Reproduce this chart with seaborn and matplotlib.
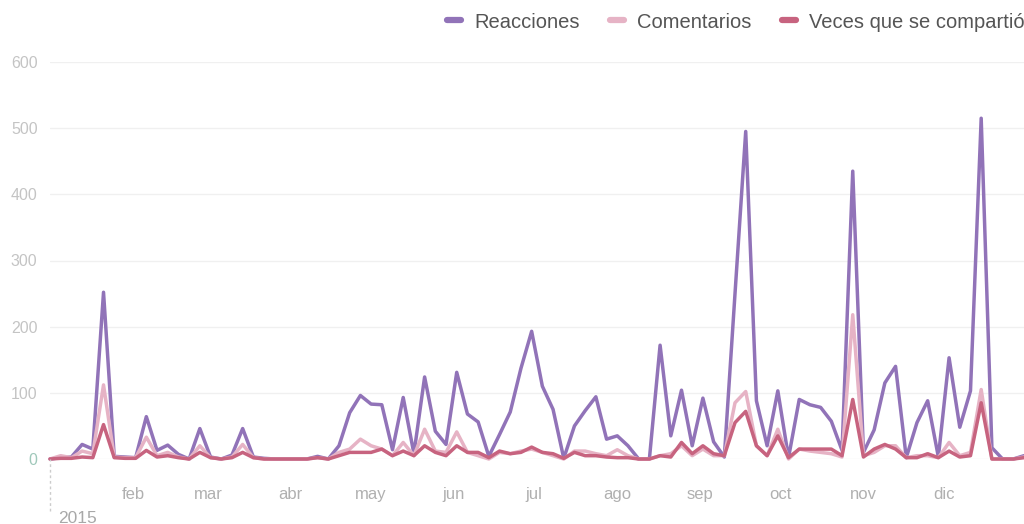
import pandas as pd
import numpy as np
import matplotlib
matplotlib.use('Agg')
import matplotlib.pyplot as plt
import seaborn as sns
from matplotlib.lines import Line2D

# data: one point every 4 days, from mid-January 2015
fechas = pd.date_range('2015-01-16', periods=92, freq='4D')

reacciones = [0, 2, 3, 22, 15, 252, 4, 3, 2, 64,
              13, 21, 7, 0, 46, 3, 0, 6, 46, 3,
              1, 0, 0, 0, 0, 4, 0, 20, 70, 96,
              83, 82, 14, 93, 8, 124, 42, 22, 131, 68,
              56, 4, 37, 71, 137, 193, 110, 75, 1, 50,
              73, 94, 30, 35, 20, 0, 0, 172, 35, 104,
              20, 92, 26, 3, 250, 495, 88, 20, 103, 2,
              90, 82, 78, 57, 13, 435, 10, 44, 115, 140,
              2, 55, 88, 3, 153, 48, 103, 515, 17, 0,
              0, 5]

comentarios = [0, 5, 2, 12, 8, 112, 3, 2, 2, 33,
               5, 10, 3, 0, 20, 2, 0, 3, 22, 2,
               0, 0, 0, 0, 0, 2, 0, 10, 15, 30,
               20, 15, 5, 25, 5, 45, 12, 10, 41, 10,
               5, 0, 10, 8, 12, 15, 10, 5, 0, 12,
               12, 8, 5, 14, 5, 0, 0, 5, 8, 20,
               5, 15, 5, 5, 85, 102, 20, 5, 45, 0,
               15, 12, 10, 8, 3, 218, 5, 10, 20, 20,
               2, 5, 5, 2, 25, 5, 10, 105, 0, 0,
               0, 3]

compartido = [0, 1, 1, 3, 2, 52, 2, 1, 1, 13,
              3, 5, 2, 0, 10, 2, 0, 2, 10, 2,
              0, 0, 0, 0, 0, 2, 0, 5, 10, 10,
              10, 15, 5, 12, 5, 20, 10, 5, 20, 10,
              10, 2, 12, 8, 10, 18, 10, 8, 1, 10,
              5, 5, 3, 2, 2, 0, 0, 5, 3, 25,
              8, 20, 8, 5, 55, 72, 20, 5, 35, 2,
              15, 15, 15, 15, 5, 90, 3, 15, 22, 15,
              2, 2, 8, 2, 12, 3, 5, 85, 0, 0,
              0, 2]

series = ['Reacciones', 'Comentarios', 'Veces que se compartió']
colores = ['#9173b8', '#e6b3c5', '#c7637f']

meses = ['feb', 'mar', 'abr', 'may', 'jun', 'jul', 'ago', 'sep', 'oct', 'nov', 'dic']
inicio_mes = pd.date_range('2015-02-01', periods=11, freq='MS')
mitad_mes = inicio_mes + pd.Timedelta(days=15)

df = pd.DataFrame({'fecha': fechas,
                   'Reacciones': reacciones,
                   'Comentarios': comentarios,
                   'Veces que se compartió': compartido})
df = df.melt(id_vars='fecha', var_name='serie', value_name='valor')

sns.set_style('white')
plt.rcParams['font.family'] = ['Liberation Sans', 'DejaVu Sans']

fig = plt.figure(figsize=(10.24, 5.24), dpi=100)
ax = fig.add_axes([50 / 1024, 65 / 524, 974 / 1024, 397 / 524])

for s, c in zip(series, colores):
    sns.lineplot(data=df[df['serie'] == s], x='fecha', y='valor', color=c,
                 linewidth=2.5, ax=ax, clip_on=False)

ax.set_xlim(fechas[0], fechas[-1])
ax.set_ylim(0, 600)
ax.set_xlabel('')
ax.set_ylabel('')
sns.despine(ax=ax, left=True, bottom=True)

# y axis
ax.set_yticks(range(0, 700, 100))
ax.yaxis.grid(True, color='#f0f0f0', linewidth=1)
ax.set_axisbelow(True)
ax.tick_params(axis='y', length=0, pad=9, labelsize=11.5, labelcolor='#c4c4c4')
ax.yaxis.get_major_ticks()[0].label1.set_color('#9fc8ba')

# x axis: ticks at month starts, labels mid-month
ax.set_xticks(inicio_mes)
ax.set_xticklabels([''] * len(inicio_mes))
ax.set_xticks(mitad_mes, minor=True)
ax.set_xticklabels(meses, minor=True)
ax.tick_params(axis='x', which='major', length=6, width=1, color='#dddddd')
ax.tick_params(axis='x', which='minor', length=0, pad=20, labelsize=12,
               labelcolor='#b0b0b0')

# year marker
ax.vlines(fechas[0], -0.13, 0, transform=ax.get_xaxis_transform(),
          colors='#cccccc', linestyles=(0, (2, 2)), linewidth=1, clip_on=False)
ax.text(fechas[0] + pd.Timedelta(days=3), -0.15, '2015',
        transform=ax.get_xaxis_transform(), fontsize=12.5, color='#a8a8a8',
        ha='left', va='center')

handles = [Line2D([0], [0], color=c, linewidth=4.5) for c in colores]
fig.legend(handles, series, loc='center left', bbox_to_anchor=(447 / 1024, 1 - 22 / 524),
           ncol=3, frameon=False, fontsize=14.5, handlelength=0.7,
           handletextpad=0.65, columnspacing=1.5, labelcolor='#555555',
           borderaxespad=0, borderpad=0)

fig.savefig('out.png', dpi=100)
